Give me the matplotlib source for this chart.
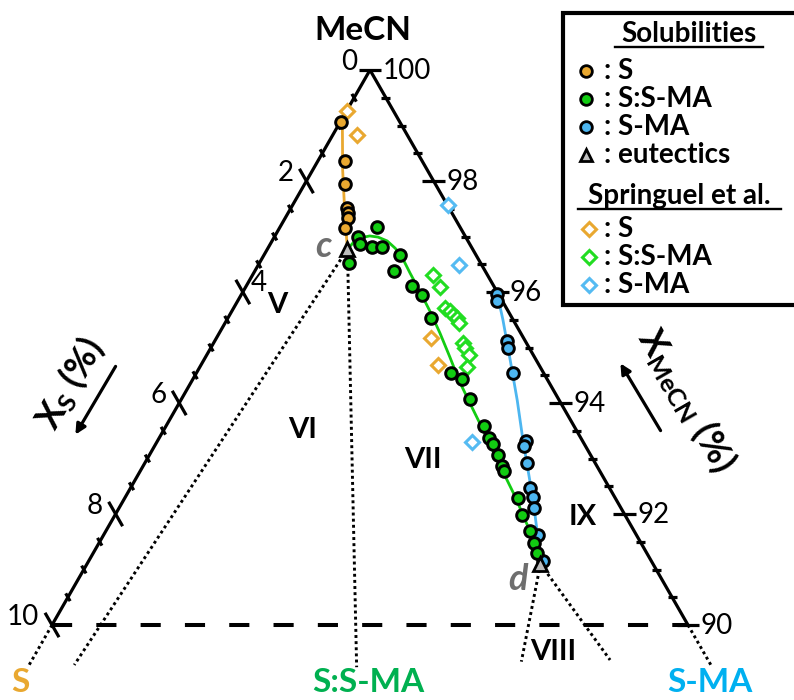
import numpy as np
import matplotlib.pyplot as plt
from matplotlib.patches import Rectangle

plt.rcParams['font.family'] = ['Lato', 'DejaVu Sans']
plt.rcParams['mathtext.fontset'] = 'custom'
plt.rcParams['mathtext.rm'] = 'Lato'
plt.rcParams['mathtext.bf'] = 'Lato:bold'
plt.rcParams['mathtext.it'] = 'Lato:italic'

# ---- compositions in mole % (x_S, x_MeCN); x_S-MA = 100 - x_S - x_MeCN ----
# measured solubilities of S
s_xS = [0.93, 1.22, 1.42, 1.60, 1.63, 1.67, 1.82]
s_xMeCN = [99.06, 98.36, 97.95, 97.52, 97.43, 97.34, 97.16]

# measured solubilities of the S:S-MA cocrystal
co_xS = [1.30, 1.69, 1.73, 1.57, 1.41, 2.07, 1.19, 1.44, 1.28, 1.21, 1.27,
         1.46, 1.34, 1.39, 1.42, 1.45, 1.44, 1.46, 1.50, 1.50, 1.54, 1.62,
         1.64, 1.69, 1.73]
co_xMeCN = [97.17, 97.00, 96.86, 96.81, 96.81, 96.52, 96.67, 96.37, 96.11,
            95.95, 95.53, 94.54, 94.44, 94.07, 93.59, 93.37, 93.26, 93.06,
            92.86, 92.78, 92.28, 91.98, 91.69, 91.47, 91.30]

# measured solubilities of S-MA
ma_xS = [0.02, 0.09, 0.28, 0.33, 0.48, 0.88, 0.97, 1.07, 1.25, 1.28, 1.37,
         1.55, 1.70]
ma_xMeCN = [95.97, 95.83, 95.12, 94.99, 94.54, 93.32, 93.23, 92.92, 92.46,
            92.30, 92.11, 91.62, 91.15]

# eutectic points c and d
eut_names = ['c', 'd']
eut_xS = [1.97, 1.77]
eut_xMeCN = [96.77, 91.10]

# literature values (Springuel et al.)
lit_s_xS = [0.72, 0.79, 1.45, 1.58]
lit_s_xMeCN = [99.27, 98.82, 95.18, 94.69]
lit_co_xS = [0.86, 0.86, 0.97, 0.92, 0.90, 0.87, 0.88, 1.00, 1.01, 1.02, 1.15]
lit_co_xMeCN = [96.31, 96.09, 95.71, 95.65, 95.59, 95.53, 95.44, 95.08,
                94.99, 94.86, 94.65]
lit_ma_xS = [0.00, 0.35, 1.74]
lit_ma_xMeCN = [97.56, 96.49, 93.30]

# solubility curves (liquidus branches)
s_curve_xS = [0.87, 1.33, 1.70, 1.97]
s_curve_xMeCN = [99.13, 98.20, 97.39, 96.77]
co_curve_xS = [1.97, 1.78, 1.64, 1.50, 1.38, 1.27, 1.21, 1.18, 1.20, 1.21,
               1.23, 1.27, 1.33, 1.40, 1.43, 1.47, 1.52, 1.56, 1.63, 1.77]
co_curve_xMeCN = [96.77, 96.92, 96.98, 97.01, 96.99, 96.92, 96.79, 96.67,
                  96.34, 96.02, 95.66, 95.26, 94.83, 94.38, 94.00, 93.44,
                  92.88, 92.32, 91.77, 91.10]
ma_curve_xS = [0.00, 0.16, 0.41, 0.66, 0.93, 1.12, 1.31, 1.52, 1.77]
ma_curve_xMeCN = [96.02, 95.50, 94.77, 94.05, 93.33, 92.79, 92.25, 91.71,
                  91.10]

# tie lines from the eutectics towards the solid phases
tie_start = ['c', 'c', 'd', 'd']
tie_end_xS = [10.01, 5.59, 2.95, 1.54]
tie_end_xMeCN = [89.28, 89.24, 89.34, 89.37]

# region labels
region_names = ['V', 'VI', 'VII', 'IX', 'VIII']
region_xS = [3.58, 4.30, 2.68, 0.68, 2.36]
region_xMeCN = [95.77, 93.51, 92.97, 91.95, 89.51]

# axis tick labels
left_ticks = [0, 2, 4, 6, 8, 10]
right_ticks = [100, 98, 96, 94, 92, 90]

C_S, C_CO, C_MA = '#E9A830', '#12CC12', '#4DB6F0'
C_S_D, C_CO_D, C_MA_D = '#E9A830', '#22DD22', '#55BBF2'

SQ3 = np.sqrt(3) / 2


def tern(xs, xm):
    xs = np.asarray(xs, float)
    xm = np.asarray(xm, float)
    xsma = 100.0 - xs - xm
    return xsma + xm / 2.0, xm * SQ3


fig = plt.figure(figsize=(7.94, 7.0), dpi=100)
ax = fig.add_axes([0, 0, 1, 1])
ax.set_xlim(44.182, 56.667)
ax.set_ylim(76.772, 87.695)
ax.axis('off')

# triangle edges (top part of the full diagram)
for xs_pair, xm_pair in [([0, 10], [100, 90]), ([0, 0], [100, 90])]:
    x, y = tern(xs_pair, xm_pair)
    ax.plot(x, y, color='black', lw=2.3, solid_capstyle='butt', zorder=3)

# dotted continuation of the edges below 90 %
for xs_pair, xm_pair in [([10, 10.75], [90, 89.25]), ([0, 0], [90, 89.25])]:
    x, y = tern(xs_pair, xm_pair)
    ax.plot(x, y, color='black', lw=2.1, ls=(0, (1, 1.1)), zorder=2)

# dashed cut at x_MeCN = 90 %
x, y = tern([10, 0], [90, 90])
ax.plot(x, y, color='black', lw=2.9, ls=(0, (5, 6)), zorder=2)

# ticks every 0.5 %, long ones every 2 %
unit_left = np.array([-0.5, SQ3])    # along constant x_S
for k in range(0, 21):
    v = k * 0.5
    major = (k % 4 == 0)
    half = 0.22 if major else 0.07
    if k > 0:
        px, py = tern(v, 100 - v)
        ax.plot([px - half * unit_left[0], px + half * unit_left[0]],
                [py - half * unit_left[1], py + half * unit_left[1]],
                color='black', lw=2.3, solid_capstyle='butt', zorder=3)
    hr = 0.18 if major else 0.07
    px, py = tern(0, 100 - v)
    ax.plot([px - hr, px + hr], [py, py], color='black', lw=2.3,
            solid_capstyle='butt', zorder=3)

for v in left_ticks:
    px, py = tern(v, 100 - v)
    if v == 4:
        ax.text(px + 0.12, py + 0.14, str(v), ha='left', va='center',
                fontsize=20, zorder=5)
    else:
        ax.text(px - 0.20, py + 0.13, str(v), ha='right', va='center',
                fontsize=20, zorder=5)
for v in right_ticks:
    px, py = tern(0, v)
    ax.text(px + 0.20, py - 0.02, str(v), ha='left', va='center',
            fontsize=20, zorder=5)

# tie lines
eut = {n: (a, b) for n, a, b in zip(eut_names, eut_xS, eut_xMeCN)}
for st, exs, exm in zip(tie_start, tie_end_xS, tie_end_xMeCN):
    sx, sm = eut[st]
    x, y = tern([sx, exs], [sm, exm])
    ax.plot(x, y, color='black', lw=2.1, ls=(0, (1, 1.1)), zorder=2)

# solubility curves
ax.plot(*tern(s_curve_xS, s_curve_xMeCN), color=C_S, lw=2.0, zorder=4)
ax.plot(*tern(co_curve_xS, co_curve_xMeCN), color=C_CO, lw=2.0, zorder=4)
ax.plot(*tern(ma_curve_xS, ma_curve_xMeCN), color=C_MA, lw=2.0, zorder=4)

# literature data
dkw = dict(ls='none', marker='D', ms=7.6, mew=2.2, mfc='white', zorder=5)
ax.plot(*tern(lit_s_xS, lit_s_xMeCN), mec=C_S_D, **dkw)
ax.plot(*tern(lit_co_xS, lit_co_xMeCN), mec=C_CO_D, **dkw)
ax.plot(*tern(lit_ma_xS, lit_ma_xMeCN), mec=C_MA_D, **dkw)

# measured data
ckw = dict(ls='none', marker='o', ms=8.4, mew=2.1, mec='black', zorder=6)
ax.plot(*tern(s_xS, s_xMeCN), mfc=C_S, **ckw)
ax.plot(*tern(ma_xS, ma_xMeCN), mfc=C_MA, **ckw)
ax.plot(*tern(co_xS, co_xMeCN), mfc=C_CO, **ckw)

ax.plot(*tern(eut_xS, eut_xMeCN), ls='none', marker='^', ms=9.5, mew=2.0,
        mfc='#BDBDBD', mec='black', zorder=7)
for n, (exs, exm) in eut.items():
    px, py = tern(exs, exm)
    off = (-0.38, 0.05) if n == 'c' else (-0.35, -0.25)
    ax.text(px + off[0], py + off[1], n, color='#6E6E6E', fontsize=26,
            fontweight='bold', style='italic', ha='center', va='center',
            zorder=8)

for name, rxs, rxm in zip(region_names, region_xS, region_xMeCN):
    px, py = tern(rxs, rxm)
    ax.text(px, py, name, fontsize=21, fontweight='bold', ha='center',
            va='center', zorder=5)

# overlay in pixel coordinates for the annotations
ov = fig.add_axes([0, 0, 1, 1])
ov.set_xlim(0, 794)
ov.set_ylim(700, 0)
ov.axis('off')
ov.patch.set_alpha(0)

ov.text(363, 30, 'MeCN', fontsize=24, fontweight='bold', ha='center',
        va='center')
ov.text(20, 683, 'S', color=C_S, fontsize=24, fontweight='bold',
        ha='center', va='center')
ov.text(368, 683, 'S:S-MA', color='#00B050', fontsize=24, fontweight='bold',
        ha='center', va='center')
ov.text(710, 683, 'S-MA', color='#00B0F0', fontsize=24, fontweight='bold',
        ha='center', va='center')

# axis captions with direction arrows
ov.text(70, 384, r'$\mathbf{X_{S}\ (\%)}$', fontsize=26, rotation=60,
        ha='center', va='center', rotation_mode='anchor')
ov.annotate('', xy=(74, 437), xytext=(117, 364),
            arrowprops=dict(arrowstyle='-|>,head_length=0.6,head_width=0.3',
                            lw=2.3, color='black'))
ov.text(686, 400, r'$\mathbf{X_{MeCN}\ (\%)}$', fontsize=26, rotation=-60,
        ha='center', va='center', rotation_mode='anchor')
ov.annotate('', xy=(619, 361), xytext=(662, 433),
            arrowprops=dict(arrowstyle='-|>,head_length=0.6,head_width=0.3',
                            lw=2.3, color='black'))

# legend box
ov.add_patch(Rectangle((563, 13), 260, 292, fill=True, fc='white',
                       ec='black', lw=3.0, zorder=1))
ov.text(689, 34, 'Solubilities', fontsize=20, fontweight='bold',
        ha='center', va='center', zorder=2)
ov.plot([615, 763], [47, 47], color='black', lw=1.7, zorder=2)
ov.text(679, 196, 'Springuel et al.', fontsize=20, fontweight='bold',
        ha='center', va='center', zorder=2)
ov.plot([578, 781], [209, 209], color='black', lw=1.7, zorder=2)

rows = [(71, 'o', C_S, ': S'), (99, 'o', C_CO, ': S:S-MA'),
        (127, 'o', C_MA, ': S-MA'), (155, '^', '#BDBDBD', ': eutectics')]
for yy, mk, col, lab in rows:
    ov.plot([586], [yy], marker=mk, ms=8.4 if mk == 'o' else 9, mew=2.0,
            mfc=col, mec='black', ls='none', zorder=2)
    ov.text(604, yy, lab, fontsize=20, fontweight='bold', ha='left',
            va='center', zorder=2)
for yy, col, lab in [(229, C_S_D, ': S'), (257, C_CO_D, ': S:S-MA'),
                     (285, C_MA_D, ': S-MA')]:
    ov.plot([589], [yy], marker='D', ms=7.6, mew=2.2, mfc='white', mec=col,
            ls='none', zorder=2)
    ov.text(604, yy, lab, fontsize=20, fontweight='bold', ha='left',
            va='center', zorder=2)

fig.savefig('out.png', dpi=100)
